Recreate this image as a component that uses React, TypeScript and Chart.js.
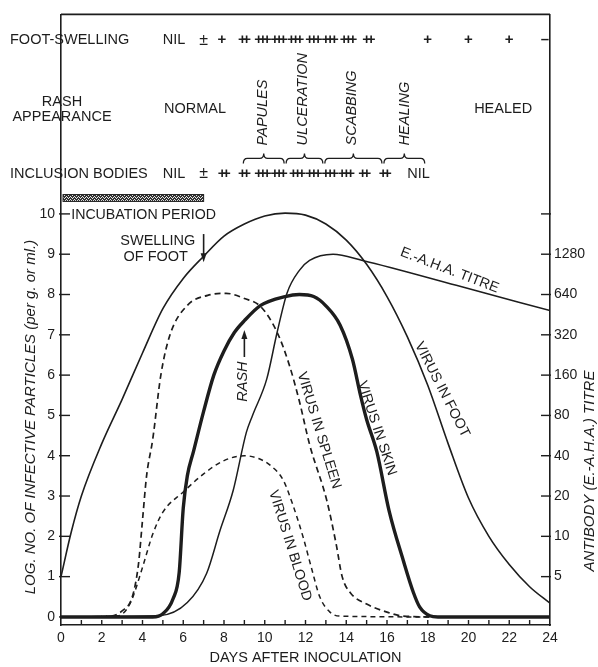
import React, { useEffect, useRef } from 'react';
import { Chart, registerables } from 'chart.js';

Chart.register(...registerables);

const FONT = "'Liberation Sans', Arial, Helvetica, sans-serif";
const INK = '#1d1d1d';

// ---- data: days after inoculation vs log10 infective particles ----
const footDays = [0, 0.5, 1, 2, 3, 4, 5, 6, 7, 8, 9, 10, 11, 12, 13, 14, 15, 16, 17, 18, 19, 20, 21, 22, 23, 24];
const footLog = [1.0, 2.1, 3.0, 4.3, 5.4, 6.55, 7.65, 8.4, 8.95, 9.45, 9.75, 9.95, 10.02, 9.97, 9.75, 9.35, 8.75, 7.95, 6.95, 5.75, 4.3, 2.95, 2.0, 1.3, 0.75, 0.34];

const skinDays = [0, 4.5, 5.0, 5.5, 5.8, 6.0, 6.2, 6.5, 7.0, 7.5, 8.0, 8.5, 9.0, 9.8, 11.0, 11.7, 12.4, 13.0, 13.7, 14.3, 14.7, 15.0, 15.5, 16.1, 16.8, 17.3, 17.6, 18.1, 18.5, 24];
const skinLog = [0, 0, 0.08, 0.45, 1.1, 2.7, 3.5, 4.1, 5.1, 6.0, 6.6, 7.05, 7.35, 7.73, 7.95, 8.0, 7.95, 7.72, 7.24, 6.4, 5.5, 4.9, 4.1, 2.64, 1.4, 0.6, 0.25, 0.03, 0, 0];

const spleenDays = [0, 2.4, 3.0, 3.5, 3.8, 4.0, 4.2, 4.5, 4.9, 5.35, 6.2, 7.2, 8.1, 9.0, 9.8, 10.6, 11.2, 11.7, 12.2, 13.05, 13.5, 13.8, 14.2, 15.0, 16.0, 16.8, 18.5];
const spleenLog = [0, 0.02, 0.15, 0.5, 1.3, 2.4, 3.5, 4.4, 6.0, 7.0, 7.73, 7.98, 8.03, 7.9, 7.7, 7.07, 6.26, 5.35, 4.28, 2.88, 1.82, 1.0, 0.6, 0.32, 0.12, 0.02, 0];

const bloodDays = [0, 2.8, 3.4, 4.0, 4.5, 5.0, 6.0, 7.0, 8.0, 9.0, 9.7, 10.3, 10.9, 11.4, 11.9, 12.3, 12.7, 13.2, 13.7, 18.5];
const bloodLog = [0, 0.03, 0.34, 1.23, 2.05, 2.6, 3.1, 3.55, 3.88, 4.0, 3.93, 3.75, 3.4, 2.75, 1.95, 1.2, 0.5, 0.12, 0.02, 0];

// antibody (E.-A.H.A.) titre
const titreDays = [0, 4.8, 6.2, 7.15, 7.8, 8.45, 9.1, 9.4, 10.1, 10.6, 11.1, 11.7, 12.2, 13.35, 14.8, 19.4, 24];
const titreValues = [2.5, 2.55, 3.2, 5.3, 11, 22, 60, 80, 150, 330, 660, 970, 1150, 1280, 1150, 750, 485];

// ---- tick labels ----
const logTicks = [0, 1, 2, 3, 4, 5, 6, 7, 8, 9, 10];
const titreTicks = [5, 10, 20, 40, 80, 160, 320, 640, 1280, 2560];
const dayTickStep = 2;

// ---- top annotation rows ----
const footSwellingDays = [7, 7.9, 8.9, 9.8, 10.6, 11.4, 12.3, 13.1, 14.0, 15.0, 18, 20, 22, 23.75];
const footSwellingMarks = ['±', '+', '++', '+++', '+++', '+++', '+++', '+++', '+++', '++', '+', '+', '+', '–'];
const inclusionDays = [7, 7.9, 8.9, 9.8, 10.6, 11.5, 12.3, 13.1, 13.9, 14.8, 15.8];
const inclusionMarks = ['±', '++', '++', '+++', '+++', '+++', '+++', '+++', '+++', '++', '++'];
const rashStages = ['PAPULES', 'ULCERATION', 'SCABBING', 'HEALING'];
const rashStageDays = [9.9, 11.9, 14.3, 16.9];
const rashStageFrom = [8.9, 11.0, 12.9, 15.8];
const rashStageTo = [11.0, 12.9, 15.8, 17.9];
const incubationPeriod = [0.1, 7];

const Y_MIN = -0.2;
const Y_MAX = 14.95;

const curveLabels = [
  { text: 'VIRUS IN FOOT', day: 18.7, log: 5.64, angle: 63 },
  { text: 'VIRUS IN SKIN', day: 15.5, log: 4.68, angle: 71.7 },
  { text: 'VIRUS IN SPLEEN', day: 12.66, log: 4.63, angle: 73 },
  { text: 'VIRUS IN BLOOD', day: 11.24, log: 1.77, angle: 72.6 },
  { text: 'E.-A.H.A. TITRE', day: 19.07, log: 8.6, angle: 21 },
];

function txt(ctx: CanvasRenderingContext2D, s: string, x: number, y: number, o: any = {}) {
  ctx.save();
  ctx.translate(x, y);
  if (o.rot) ctx.rotate(o.rot);
  ctx.font = `${o.italic ? 'italic ' : ''}${o.bold ? 'bold ' : ''}${o.size || 14.5}px ${FONT}`;
  ctx.textAlign = o.align || 'center';
  ctx.textBaseline = 'middle';
  if (o.spacing) (ctx as any).letterSpacing = o.spacing;
  ctx.fillStyle = INK;
  ctx.fillText(s, 0, 0);
  ctx.restore();
}

function seg(ctx: CanvasRenderingContext2D, x1: number, y1: number, x2: number, y2: number) {
  ctx.beginPath();
  ctx.moveTo(x1, y1);
  ctx.lineTo(x2, y2);
  ctx.stroke();
}

function arrow(ctx: CanvasRenderingContext2D, x: number, yFrom: number, yTo: number) {
  const dir = yTo > yFrom ? 1 : -1;
  ctx.lineWidth = 1.6;
  seg(ctx, x, yFrom, x, yTo - dir * 6);
  ctx.beginPath();
  ctx.moveTo(x, yTo);
  ctx.lineTo(x - 3, yTo - dir * 9);
  ctx.lineTo(x + 3, yTo - dir * 9);
  ctx.closePath();
  ctx.fill();
}

function brace(ctx: CanvasRenderingContext2D, x0: number, x1: number, yTip: number, yMid: number, yEnd: number) {
  const xm = (x0 + x1) / 2;
  const r = 4;
  ctx.beginPath();
  ctx.moveTo(x0, yEnd);
  ctx.quadraticCurveTo(x0, yMid, x0 + r, yMid);
  ctx.lineTo(xm - r, yMid);
  ctx.quadraticCurveTo(xm, yMid, xm, yTip);
  ctx.quadraticCurveTo(xm, yMid, xm + r, yMid);
  ctx.lineTo(x1 - r, yMid);
  ctx.quadraticCurveTo(x1, yMid, x1, yEnd);
  ctx.stroke();
}

function mark(ctx: CanvasRenderingContext2D, s: string, x: number, y: number) {
  if (s === '±') {
    txt(ctx, s, x, y, { size: 16 });
  } else if (s === '–') {
    txt(ctx, s, x, y, { size: 15, bold: true });
  } else {
    txt(ctx, s, x, y, { size: 15, bold: true, spacing: s.length > 1 ? '-4.5px' : '0px' });
  }
}

const annotations = {
  id: 'annotations',
  afterDraw(chart: any) {
    const { ctx, chartArea: ca, scales } = chart;
    const X = (d: number) => scales.x.getPixelForValue(d);
    const Y = (v: number) => scales.y.getPixelForValue(v);
    ctx.save();
    ctx.strokeStyle = INK;
    ctx.fillStyle = INK;

    // top frame line
    ctx.lineWidth = 1.6;
    seg(ctx, ca.left, ca.top, ca.right, ca.top);

    // inward tick marks
    ctx.lineWidth = 1.4;
    logTicks.forEach((v) => seg(ctx, ca.left - 2, Y(v), ca.left + 9, Y(v)));
    titreTicks.forEach((t) => {
      const y = scales.y2.getPixelForValue(t);
      seg(ctx, ca.right - 9, y, ca.right + 1, y);
    });
    for (let d = 1; d < 24; d++) seg(ctx, X(d), ca.bottom, X(d), ca.bottom - 5);

    // axis titles
    txt(ctx, 'DAYS AFTER INOCULATION', (ca.left + ca.right) / 2, 658, { size: 14.5 });
    txt(ctx, 'LOG. NO. OF INFECTIVE PARTICLES (per g. or ml.)', 31, 417, { size: 15, italic: true, rot: -Math.PI / 2 });
    txt(ctx, 'ANTIBODY (E.-A.H.A.) TITRE', 590, 471, { size: 15, italic: true, rot: -Math.PI / 2 });

    // row labels
    const yFoot = Y(14.31);
    const yRash = Y(12.6);
    const yIncl = Y(10.99);
    txt(ctx, 'FOOT-SWELLING', 10, yFoot, { align: 'left', size: 14.5 });
    txt(ctx, 'RASH', 62, Y(12.78), { size: 14.5 });
    txt(ctx, 'APPEARANCE', 62, Y(12.41), { size: 14.5 });
    txt(ctx, 'INCLUSION BODIES', 10, yIncl, { align: 'left', size: 14.5 });

    // foot swelling row
    txt(ctx, 'NIL', X(5.55), yFoot, { size: 14.5 });
    footSwellingDays.forEach((d, i) => mark(ctx, footSwellingMarks[i], X(d), yFoot));
    // inclusion bodies row
    txt(ctx, 'NIL', X(5.55), yIncl, { size: 14.5 });
    inclusionDays.forEach((d, i) => mark(ctx, inclusionMarks[i], X(d), yIncl));
    txt(ctx, 'NIL', X(17.55), yIncl, { size: 14.5 });

    // rash appearance row
    txt(ctx, 'NORMAL', X(6.58), yRash, { size: 14.5 });
    txt(ctx, 'HEALED', X(21.7), yRash, { size: 14.5 });
    rashStages.forEach((s, i) => {
      txt(ctx, s, X(rashStageDays[i]), Y(11.7), { size: 14.5, italic: true, align: 'left', rot: -Math.PI / 2 });
    });
    ctx.lineWidth = 1.3;
    rashStageFrom.forEach((d, i) => brace(ctx, X(d) + 1, X(rashStageTo[i]) - 1, Y(11.5), Y(11.38), Y(11.25)));

    // incubation bar
    const pc = document.createElement('canvas');
    pc.width = 4;
    pc.height = 3;
    const p = pc.getContext('2d') as CanvasRenderingContext2D;
    p.fillStyle = '#333';
    p.fillRect(0, 0, 4, 3);
    p.fillStyle = '#e8e8e8';
    p.fillRect(0, 0, 1, 1);
    p.fillRect(2, 1, 1, 1);
    p.fillRect(1, 2, 1, 1);
    p.fillRect(3, 2, 1, 1);
    const pat = ctx.createPattern(pc, 'repeat');
    const bx0 = X(incubationPeriod[0]);
    const bx1 = X(incubationPeriod[1]);
    const by0 = Y(10.48);
    const by1 = Y(10.31);
    ctx.fillStyle = pat;
    ctx.fillRect(bx0, by0, bx1 - bx0, by1 - by0);
    ctx.fillStyle = INK;
    ctx.lineWidth = 1;
    ctx.strokeRect(bx0, by0, bx1 - bx0, by1 - by0);
    txt(ctx, 'INCUBATION PERIOD', X(0.5), Y(9.97), { align: 'left', size: 14.2 });

    // swelling of foot
    txt(ctx, 'SWELLING', X(4.75), Y(9.33), { size: 14.5 });
    txt(ctx, 'OF FOOT', X(4.65), Y(8.92), { size: 14.5 });
    arrow(ctx, X(7), Y(9.5), Y(8.8));

    // rash marker
    arrow(ctx, X(9.0), Y(6.45), Y(7.12));
    txt(ctx, 'RASH', X(8.95), Y(5.34), { size: 14.5, italic: true, align: 'left', rot: -Math.PI / 2 });

    // curve labels
    curveLabels.forEach((l) =>
      txt(ctx, l.text, X(l.day), Y(l.log), { size: 14.2, rot: (l.angle * Math.PI) / 180 })
    );

    ctx.restore();
  },
};

const pts = (days: number[], vals: number[]) => days.map((d, i) => ({ x: d, y: vals[i] }));

export default function App() {
  const ref = useRef<HTMLCanvasElement | null>(null);
  useEffect(() => {
    if (!ref.current) return;
    const common = {
      pointRadius: 0,
      fill: false,
      borderColor: INK,
      cubicInterpolationMode: 'monotone',
      showLine: true,
    };
    const tickFont = { family: FONT, size: 14 };
    const chart = new Chart(ref.current, {
      type: 'line',
      data: {
        datasets: [
          { ...common, label: 'Virus in foot', data: pts(footDays, footLog), borderWidth: 1.6, yAxisID: 'y' },
          { ...common, label: 'Virus in skin', data: pts(skinDays, skinLog), borderWidth: 3.4, yAxisID: 'y' },
          { ...common, label: 'Virus in spleen', data: pts(spleenDays, spleenLog), borderWidth: 1.7, borderDash: [6, 4], yAxisID: 'y' },
          { ...common, label: 'Virus in blood', data: pts(bloodDays, bloodLog), borderWidth: 1.5, borderDash: [5, 4], yAxisID: 'y' },
          { ...common, label: 'E.-A.H.A. titre', data: pts(titreDays, titreValues), borderWidth: 1.5, yAxisID: 'y2' },
        ],
      } as any,
      options: {
        responsive: false,
        animation: false,
        devicePixelRatio: 1,
        layout: { padding: { top: 10, left: 0, right: 0, bottom: 0 } },
        plugins: { legend: { display: false }, tooltip: { enabled: false } },
        scales: {
          x: {
            type: 'linear',
            min: 0,
            max: 24,
            grid: { display: false, drawTicks: false },
            border: { display: true, color: INK, width: 1.6 },
            ticks: { stepSize: dayTickStep, padding: 5, font: tickFont, color: INK, maxRotation: 0, autoSkip: false },
            afterFit: (s: any) => { s.height = 42; },
          },
          y: {
            type: 'linear',
            position: 'left',
            min: Y_MIN,
            max: Y_MAX,
            grid: { display: false, drawTicks: false },
            border: { display: true, color: INK, width: 1.6 },
            ticks: { padding: 6, font: tickFont, color: INK, autoSkip: false },
            afterBuildTicks: (s: any) => { s.ticks = logTicks.map((v) => ({ value: v })); },
            afterFit: (s: any) => { s.width = 61; },
          },
          y2: {
            type: 'logarithmic',
            position: 'right',
            min: 2.5 * Math.pow(2, Y_MIN),
            max: 2.5 * Math.pow(2, Y_MAX),
            grid: { display: false, drawTicks: false },
            border: { display: true, color: INK, width: 1.6 },
            ticks: {
              padding: 4,
              font: tickFont,
              color: INK,
              autoSkip: false,
              callback: (v: any) => (v >= 2560 ? '' : String(v)),
            },
            afterBuildTicks: (s: any) => { s.ticks = titreTicks.map((v) => ({ value: v })); },
            afterFit: (s: any) => { s.width = 48; },
          },
        },
      } as any,
      plugins: [annotations],
    });
    return () => chart.destroy();
  }, []);
  return (
    <div style={{ position: 'fixed', left: 0, top: 0, width: 598, height: 667, background: '#fff' }}>
      <canvas ref={ref} width={598} height={667} style={{ width: 598, height: 667, display: 'block' }} />
    </div>
  );
}
